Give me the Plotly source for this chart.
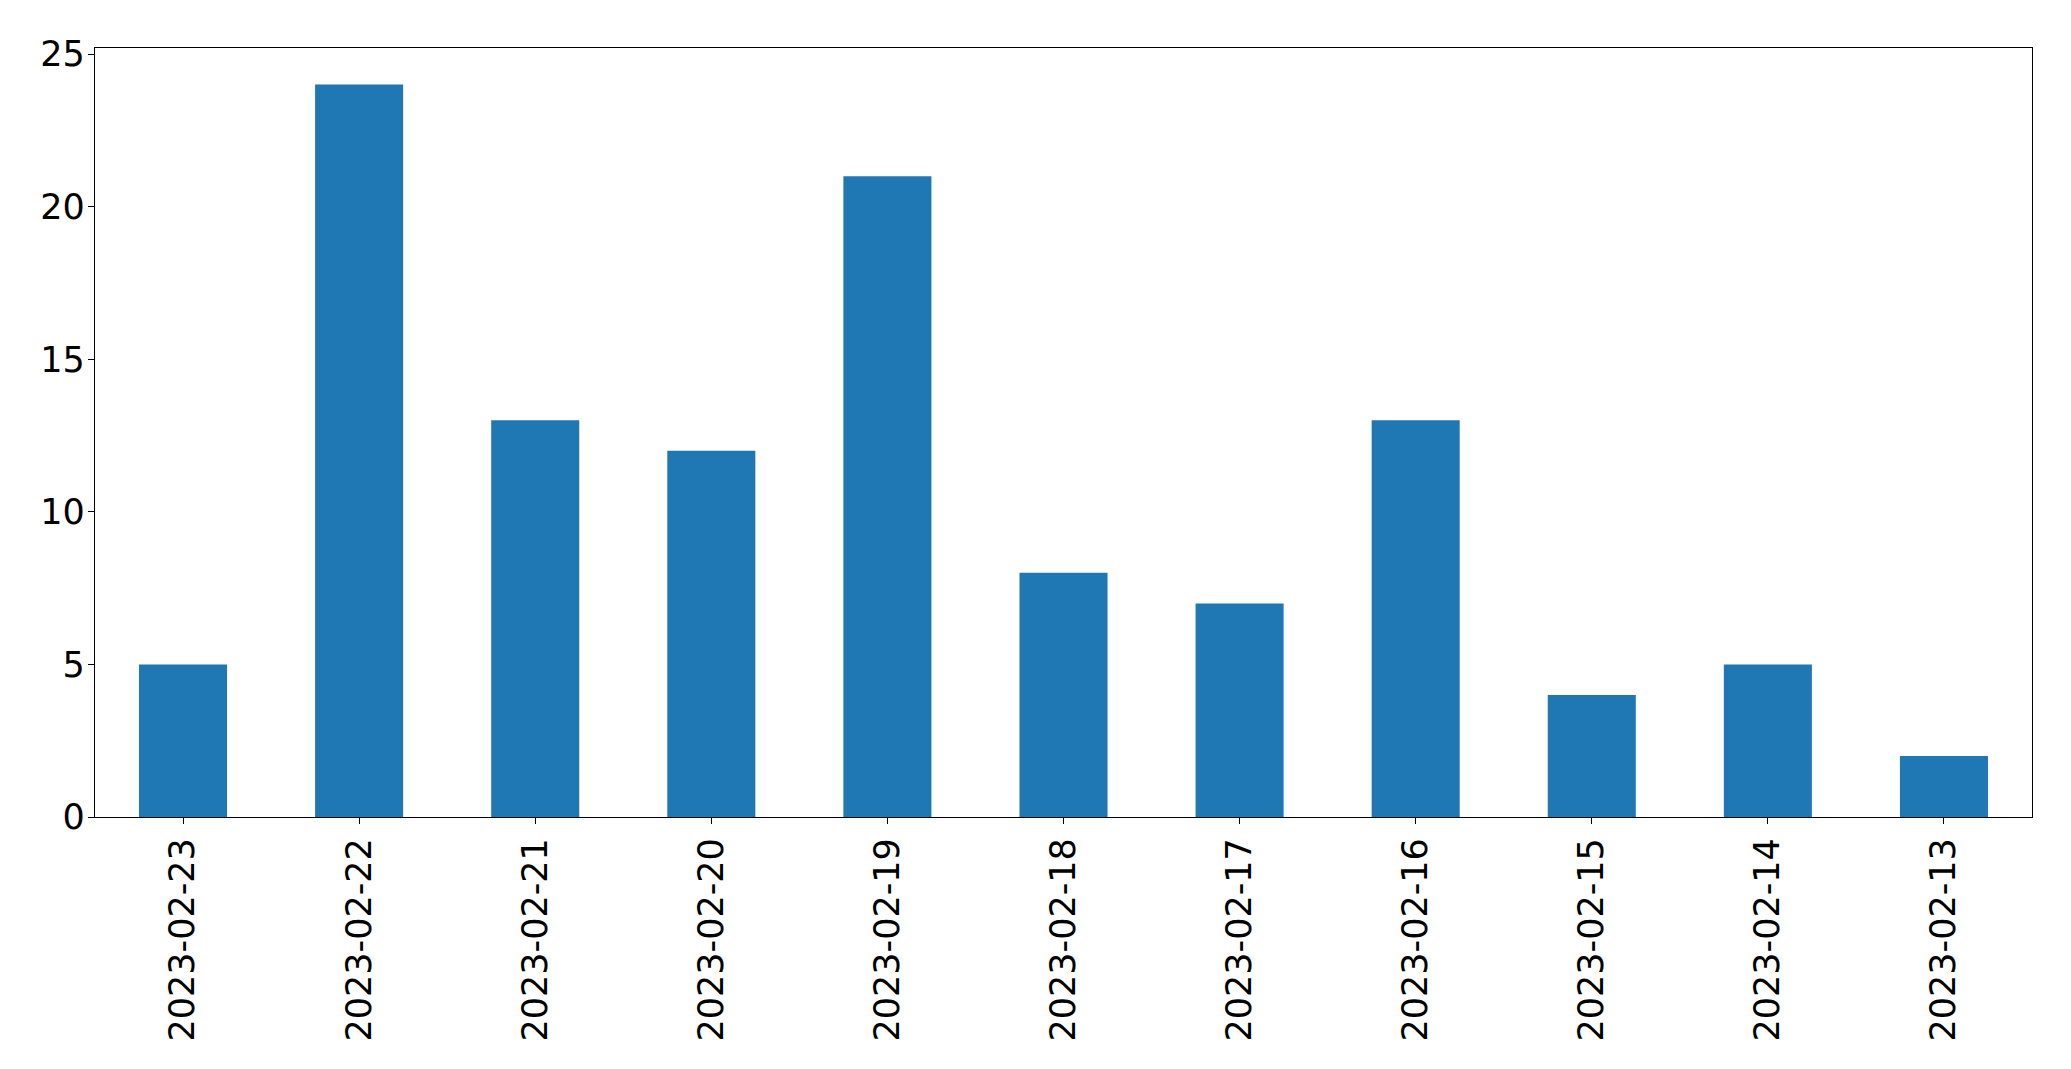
import plotly.graph_objects as go

dates = ["2023-02-23", "2023-02-22", "2023-02-21", "2023-02-20", "2023-02-19",
         "2023-02-18", "2023-02-17", "2023-02-16", "2023-02-15", "2023-02-14",
         "2023-02-13"]
counts = [5, 24, 13, 12, 21, 8, 7, 13, 4, 5, 2]
y_ticks = [0, 5, 10, 15, 20, 25]

fig = go.Figure()
fig.add_trace(go.Bar(x=dates, y=counts, marker=dict(color="#1f77b4", line=dict(width=0)),
                     width=0.5))

font = dict(family="DejaVu Sans", size=35, color="black")
fig.update_layout(
    width=2063, height=1061,
    paper_bgcolor="white", plot_bgcolor="white",
    margin=dict(l=87, r=39, t=40, b=252, autoexpand=False),
    showlegend=False,
    font=font,
    bargap=0.5,
)
fig.update_xaxes(
    type="category", range=[-0.5, 10.5], tickangle=-90,
    showline=True, linecolor="black", linewidth=1.3, mirror=True,
    ticks="outside", ticklen=6, tickcolor="black", tickwidth=1.3,
    showgrid=False, zeroline=False, tickfont=font,
)
fig.update_yaxes(
    range=[0, 25.2], tickvals=y_ticks,
    showline=True, linecolor="black", linewidth=1.3, mirror=True,
    ticks="outside", ticklen=6, tickcolor="black", tickwidth=1.3,
    ticklabelstandoff=-4,
    showgrid=False, zeroline=False, tickfont=font,
)
fig.write_html("out.html")
